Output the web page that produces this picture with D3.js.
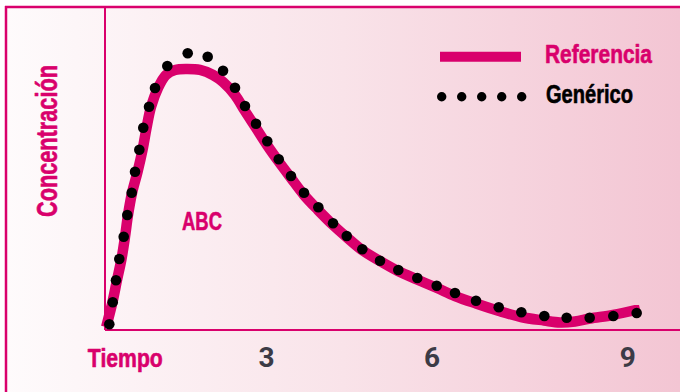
<!DOCTYPE html>
<html><head><meta charset="utf-8">
<script src="https://cdn.jsdelivr.net/npm/d3@7"></script>
<style>html,body{margin:0;padding:0;background:#fff;}svg{display:block;}</style>
</head><body>
<svg id="chart" width="680" height="392"></svg>
<script>
// ---- data ----
const refTime = [0.02,0.129,0.207,0.284,0.344,0.396,0.465,0.56,0.646,0.715,0.792,0.913,1.05,1.205,1.412,1.636,1.86,2.032,2.238,2.41,2.6,2.789,2.996,3.202,3.426,3.667,3.926,4.167,4.425,4.735,5.045,5.372,5.716,6.026,6.388,6.784,7.163,7.558,7.834,8.092,8.351,8.747,9.211];
const refConc = [1.07,10.0,17.86,25.36,33.2,41.07,48.93,56.43,64.29,72.14,79.64,86.43,91.07,92.86,93.21,92.86,91.07,88.57,83.93,78.21,72.14,66.07,60.0,54.29,48.21,42.86,37.5,33.04,28.57,24.64,21.07,18.04,15.0,12.14,9.46,6.79,4.64,3.39,2.68,3.04,4.11,5.36,7.5];
const genTime = [0.074,0.133,0.189,0.246,0.322,0.384,0.46,0.517,0.591,0.659,0.758,0.861,1.073,1.424,1.768,2.032,2.238,2.41,2.6,2.794,2.991,3.202,3.426,3.673,3.926,4.162,4.43,4.735,5.05,5.377,5.711,6.026,6.388,6.779,7.168,7.564,7.949,8.345,8.752,9.154];
const genConc = [2.04,9.89,17.75,25.36,33.32,41.07,49.04,56.54,64.39,72.25,79.75,86.43,94.29,98.82,97.61,92.61,86.54,80.0,73.68,67.39,60.96,55.0,49.04,43.82,38.11,33.57,28.82,24.75,21.43,18.57,15.82,13.21,10.46,8.11,6.32,5.0,4.39,4.39,5.0,6.07];
const tickLabels = ["Tiempo","3","6","9"];
const tickTimes = [0.35,2.78,5.63,9.0];
const seriesNames = ["Referencia","Genérico"];
const yTitle = "Concentración";
const annotation = "ABC";

// ---- drawing ----
const W = 680, H = 392;
const PINK = "#d9006c";
const svg = d3.select("#chart");
const condensed = "'Liberation Sans','Arial',sans-serif";

function squeeze(sel, w, col){
  return sel.attr("textLength", w).attr("lengthAdjust","spacingAndGlyphs")
    .attr("stroke", col).attr("stroke-width", 0.6).attr("stroke-linejoin","round");
}

const defs = svg.append("defs");
const grad = defs.append("linearGradient").attr("id","bg").attr("x1","0").attr("x2","1").attr("y1","0").attr("y2","0");
grad.append("stop").attr("offset","0").attr("stop-color","#fefbfc");
grad.append("stop").attr("offset","0.5").attr("stop-color","#f9e3e9");
grad.append("stop").attr("offset","1").attr("stop-color","#f3c5d3");

svg.append("rect").attr("x",0).attr("y",0).attr("width",W).attr("height",H).attr("fill","#fff");
svg.append("rect").attr("x",6).attr("y",7).attr("width",W-6).attr("height",H-7).attr("fill","url(#bg)");

const x = d3.scaleLinear().domain([0,9.9]).range([105,680]);
const y = d3.scaleLinear().domain([0,100]).range([330,50]);

// frame
svg.append("line").attr("x1",6).attr("x2",6).attr("y1",6).attr("y2",H).attr("stroke",PINK).attr("stroke-width",2.5);
svg.append("line").attr("x1",5).attr("x2",W).attr("y1",7).attr("y2",7).attr("stroke",PINK).attr("stroke-width",2.5);

// axes
svg.append("line").attr("x1",x(0)).attr("x2",x(0)).attr("y1",7).attr("y2",y(0)).attr("stroke",PINK).attr("stroke-width",2);
svg.append("line").attr("x1",x(0)).attr("x2",W).attr("y1",y(0)).attr("y2",y(0)).attr("stroke",PINK).attr("stroke-width",2);

// reference line
const refData = refTime.map((t,i)=>[t,refConc[i]]);
const line = d3.line().x(d=>x(d[0])).y(d=>y(d[1])).curve(d3.curveCatmullRom);
svg.append("path").datum(refData).attr("d",line).attr("fill","none").attr("stroke",PINK).attr("stroke-width",10.5).attr("stroke-linecap","butt").attr("stroke-linejoin","round");

// generic dots
const genData = genTime.map((t,i)=>[t,genConc[i]]);
svg.append("g").selectAll("circle").data(genData).join("circle")
  .attr("cx",d=>x(d[0])).attr("cy",d=>y(d[1])).attr("r",5.3).attr("fill","#000");

// x tick labels
tickLabels.forEach((lab,i)=>{
  const isWord = i===0;
  const t = svg.append("text").attr("x",x(tickTimes[i])).attr("y",367).attr("text-anchor","middle")
    .attr("font-family", isWord ? condensed : "Roboto, sans-serif")
    .attr("font-weight","bold").attr("font-size", isWord ? 25 : 28)
    .attr("fill", isWord ? PINK : "#3c3b46").text(lab);
  if (isWord) squeeze(t, 75, PINK);
});

// y title
squeeze(svg.append("text").attr("transform","translate(57,141) rotate(-90)").attr("text-anchor","middle")
  .attr("font-family",condensed).attr("font-weight","bold").attr("font-size",29).attr("fill",PINK).text(yTitle), 152, PINK);

// annotation
squeeze(svg.append("text").attr("x",202).attr("y",229.5).attr("text-anchor","middle")
  .attr("font-family",condensed).attr("font-weight","bold").attr("font-size",26).attr("fill",PINK).text(annotation), 40, PINK);

// legend
const lg = svg.append("g");
lg.append("line").attr("x1",440).attr("x2",521).attr("y1",56.7).attr("y2",56.7).attr("stroke",PINK).attr("stroke-width",10);
squeeze(lg.append("text").attr("x",545).attr("y",62.5).attr("font-family",condensed).attr("font-weight","bold").attr("font-size",25.5).attr("fill",PINK).text(seriesNames[0]), 107, PINK);
lg.selectAll("circle").data(d3.range(5)).join("circle").attr("cx",d=>441.7+d*20).attr("cy",96.7).attr("r",4.7).attr("fill","#000");
squeeze(lg.append("text").attr("x",546).attr("y",102.5).attr("font-family",condensed).attr("font-weight","bold").attr("font-size",25.5).attr("fill","#000").text(seriesNames[1]), 87, "#000");
</script>
</body></html>
